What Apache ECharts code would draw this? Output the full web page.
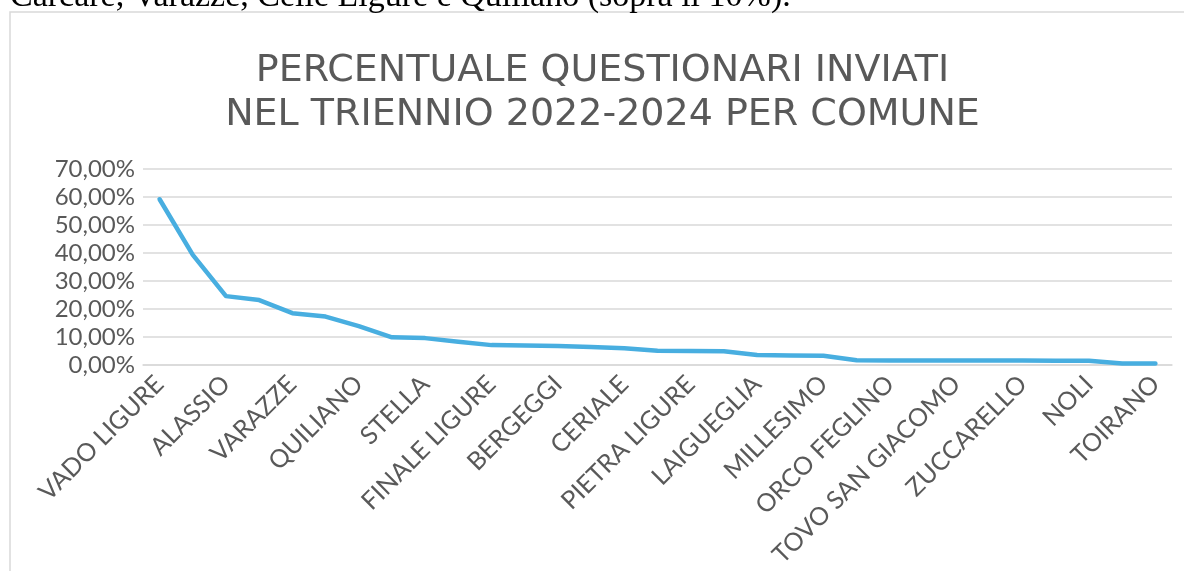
<!DOCTYPE html>
<html>
<head>
<meta charset="utf-8">
<script src="https://cdn.jsdelivr.net/npm/echarts@6/dist/echarts.min.js"></script>
<style>
html,body{margin:0;padding:0;background:#fff;}
#c{width:1184px;height:571px;}
</style>
</head>
<body>
<div id="c"></div>
<script>
const categories = [
  'VADO LIGURE','SAVONA','ALASSIO','CARCARE','VARAZZE','CELLE LIGURE','QUILIANO',
  'ALBISSOLA MARINA','STELLA','ALBENGA','FINALE LIGURE','LOANO','BERGEGGI','SPOTORNO',
  'CERIALE','BORGIO VEREZZI','PIETRA LIGURE','ANDORA','LAIGUEGLIA','CAIRO MONTENOTTE',
  'MILLESIMO','CALIZZANO','ORCO FEGLINO','BARDINETO','TOVO SAN GIACOMO','GIUSTENICE',
  'ZUCCARELLO','CALICE LIGURE','NOLI','MALLARE','TOIRANO'
];
const percentuali = [
  59.2, 39.3, 24.6, 23.2, 18.5, 17.3, 13.9,
  9.9, 9.6, 8.3, 7.1, 7.0, 6.8, 6.4,
  6.0, 5.1, 5.0, 4.9, 3.6, 3.4,
  3.3, 1.7, 1.6, 1.6, 1.6, 1.6,
  1.6, 1.5, 1.5, 0.5, 0.5
];
const titleLines = ['PERCENTUALE QUESTIONARI INVIATI', 'NEL TRIENNIO 2022-2024 PER COMUNE'];
const introText = 'Carcare, Varazze, Celle Ligure e Quiliano (sopra il 10%).';
const yMin = 0, yMax = 70, yStep = 10;

const chart = echarts.init(document.getElementById('c'));
chart.setOption({
  animation: false,
  backgroundColor: '#ffffff',
  title: {
    text: titleLines.join('\n'),
    left: 597.5,
    top: 44,
    textAlign: 'center',
    textStyle: {
      fontFamily: 'DejaVu Sans',
      fontSize: 38,
      fontWeight: 'normal',
      color: '#595959',
      lineHeight: 44
    }
  },
  graphic: [
    {
      type: 'rect',
      shape: { x: 10, y: 12, width: 1250, height: 650 },
      style: { fill: 'none', stroke: '#d9d9d9', lineWidth: 1.5 },
      silent: true
    },
    {
      type: 'text',
      x: 10, y: -20,
      style: {
        text: introText,
        fontFamily: 'Liberation Serif',
        fontSize: 34,
        fill: '#000000',
        verticalAlign: 'top',
        align: 'left'
      },
      silent: true
    }
  ],
  grid: { left: 143, right: 12, top: 169, bottom: 206, containLabel: false },
  xAxis: {
    type: 'category',
    data: categories,
    boundaryGap: true,
    axisLine: { lineStyle: { color: '#d9d9d9', width: 1.5 } },
    axisTick: { show: false },
    axisLabel: {
      interval: 1,
      rotate: 45,
      fontFamily: 'Lato',
      fontSize: 25,
      color: '#595959',
      margin: 15
    }
  },
  yAxis: {
    type: 'value',
    min: yMin, max: yMax, interval: yStep,
    axisLine: { show: false },
    axisTick: { show: false },
    splitLine: { lineStyle: { color: '#d9d9d9', width: 1.5 } },
    axisLabel: {
      fontFamily: 'Lato',
      fontSize: 24,
      color: '#595959',
      margin: 8,
      formatter: v => v.toFixed(2).replace('.', ',') + '%'
    }
  },
  series: [{
    type: 'line',
    data: percentuali,
    symbol: 'none',
    lineStyle: { color: '#48aee0', width: 4.5, cap: 'round', join: 'round' }
  }]
});
</script>
</body>
</html>
